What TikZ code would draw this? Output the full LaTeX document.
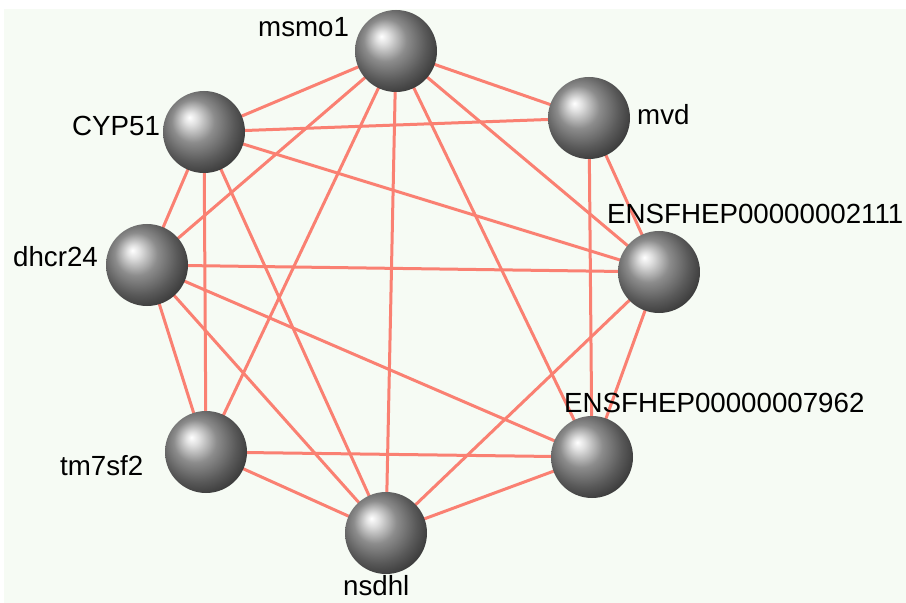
\documentclass[tikz,border=0pt]{standalone}
\usepackage{fontspec}
\setmainfont{Liberation Sans}
\usetikzlibrary{backgrounds}
\definecolor{linkred}{RGB}{250,128,114}
\definecolor{paper}{RGB}{246,251,244}
% soft grey sphere, light spot up left
\pgfdeclareradialshading{genesphere}{\pgfpoint{-9bp}{9bp}}{%
  color(0bp)=(black!0); color(4bp)=(black!12); color(13bp)=(black!45);
  color(23bp)=(black!65); color(33bp)=(black!82); color(50bp)=(black!88)}

\begin{document}
\begin{tikzpicture}[x=1bp, y=-1bp,
    gene/.style={circle, shade, shading=genesphere, minimum size=82bp, inner sep=0pt},
    tag/.style={anchor=base west, inner sep=0pt, font=\fontsize{27.8}{32}\selectfont},
    link/.style={linkred, line width=3bp}]
\useasboundingbox (0,0) rectangle (906,603);

% genes
\node[gene] (msmo1) at (396,51) {};
\node[gene] (cyp51) at (204,132) {};
\node[gene] (mvd) at (589,118) {};
\node[gene] (e2111) at (659,272) {};
\node[gene] (dhcr24) at (147,265) {};
\node[gene] (e7962) at (592,457) {};
\node[gene] (tm7sf2) at (206,452) {};
\node[gene] (nsdhl) at (386,533) {};

% names
\node[tag] (t-msmo1) at (258,37) {msmo1};
\node[tag] (t-cyp51) at (72,136) {CYP51};
\node[tag] (t-mvd) at (637,125) {mvd};
\node[tag] (t-e2111) at (607,224) {ENSFHEP00000002111};
\node[tag] (t-dhcr24) at (13,267) {dhcr24};
\node[tag] (t-e7962) at (564,412) {ENSFHEP00000007962};
\node[tag] (t-tm7sf2) at (60,475) {tm7sf2};
\node[tag] (t-nsdhl) at (343,595) {nsdhl};

\begin{scope}[on background layer]
\fill[paper] (4,9) rectangle (906,603);
% interactions
\foreach \b in {cyp51,mvd,dhcr24,tm7sf2,nsdhl,e7962,e2111}
    \draw[link] (msmo1.center) -- (\b.center);
\foreach \b in {mvd,e2111,dhcr24,tm7sf2,nsdhl}
    \draw[link] (cyp51.center) -- (\b.center);
\foreach \b in {e2111,e7962,tm7sf2,nsdhl}
    \draw[link] (dhcr24.center) -- (\b.center);
\foreach \b in {e2111,e7962}
    \draw[link] (mvd.center) -- (\b.center);
\foreach \b in {e7962,nsdhl}
    \draw[link] (e2111.center) -- (\b.center);
\foreach \b in {tm7sf2,nsdhl}
    \draw[link] (e7962.center) -- (\b.center);
\draw[link] (tm7sf2.center) -- (nsdhl.center);
\end{scope}
\end{tikzpicture}
\end{document}
